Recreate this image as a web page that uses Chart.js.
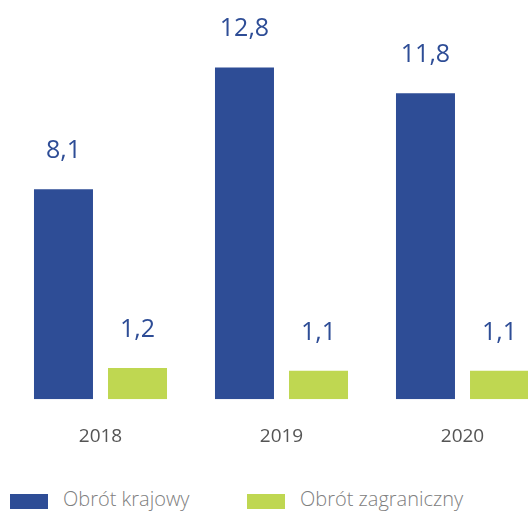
<!DOCTYPE html>
<html>
<head>
<meta charset="utf-8">
<script src="https://cdn.jsdelivr.net/npm/chart.js@4/dist/chart.umd.min.js"></script>
<style>
  html, body { margin: 0; padding: 0; background: #fff; width: 528px; height: 515px; overflow: hidden; }
  #wrap { position: absolute; left: 0; top: 0; width: 560px; height: 474px; }
  .legend { position: absolute; top: 494px; font-family: "Open Sans", sans-serif; font-weight: 300; font-size: 20px; color: #808080; }
  .legend .box { position: absolute; top: 0; width: 38px; height: 15px; }
  .legend .txt { position: absolute; top: -9px; white-space: nowrap; }
</style>
</head>
<body>
<div id="wrap"><canvas id="chart" width="560" height="474"></canvas></div>
<div class="legend" id="legend"></div>
<script>
// dane
const years = ['2018', '2019', '2020'];
const domestic = [8.1, 12.8, 11.8];
const foreign = [1.2, 1.1, 1.1];
const seriesNames = ['Obrót krajowy', 'Obrót zagraniczny'];
const colors = ['#2e4d96', '#bfd751'];

const fmt = v => v.toFixed(1).replace('.', ',');

// etykiety wartości nad słupkami
const valueLabels = {
    id: 'valueLabels',
    afterDatasetsDraw(chart) {
        const ctx = chart.ctx;
        ctx.save();
        ctx.font = '25px "Open Sans", sans-serif';
        ctx.fillStyle = '#2e4d96';
        ctx.textAlign = 'center';
        ctx.textBaseline = 'alphabetic';
        chart.data.datasets.forEach((ds, i) => {
            chart.getDatasetMeta(i).data.forEach((bar, j) => {
                ctx.fillText(fmt(ds.data[j]), bar.x, bar.y - 31);
            });
        });
        ctx.restore();
    }
};

new Chart(document.getElementById('chart'), {
    type: 'bar',
    data: {
        labels: years,
        datasets: [
            { label: seriesNames[0], data: domestic, backgroundColor: colors[0] },
            { label: seriesNames[1], data: foreign, backgroundColor: colors[1] }
        ]
    },
    options: {
        responsive: false,
        animation: false,
        categoryPercentage: 0.818,
        barPercentage: 0.797,
        layout: { padding: { left: 10, right: 7, top: 0, bottom: 0 } },
        plugins: {
            legend: { display: false },
            tooltip: { enabled: false }
        },
        scales: {
            x: {
                grid: { display: false, drawTicks: false },
                border: { display: false },
                ticks: {
                    color: '#555',
                    font: { family: '"Open Sans", sans-serif', size: 19 },
                    padding: 26
                }
            },
            y: {
                display: false,
                min: 0,
                max: 15.4
            }
        }
    },
    plugins: [valueLabels]
});

// legenda
const legend = document.getElementById('legend');
const legendX = [10, 247];
const textX = [63, 300];
seriesNames.forEach((name, i) => {
    const box = document.createElement('div');
    box.className = 'box';
    box.style.left = legendX[i] + 'px';
    box.style.background = colors[i];
    legend.appendChild(box);
    const t = document.createElement('div');
    t.className = 'txt';
    t.style.left = textX[i] + 'px';
    t.textContent = name;
    legend.appendChild(t);
});
</script>
</body>
</html>
